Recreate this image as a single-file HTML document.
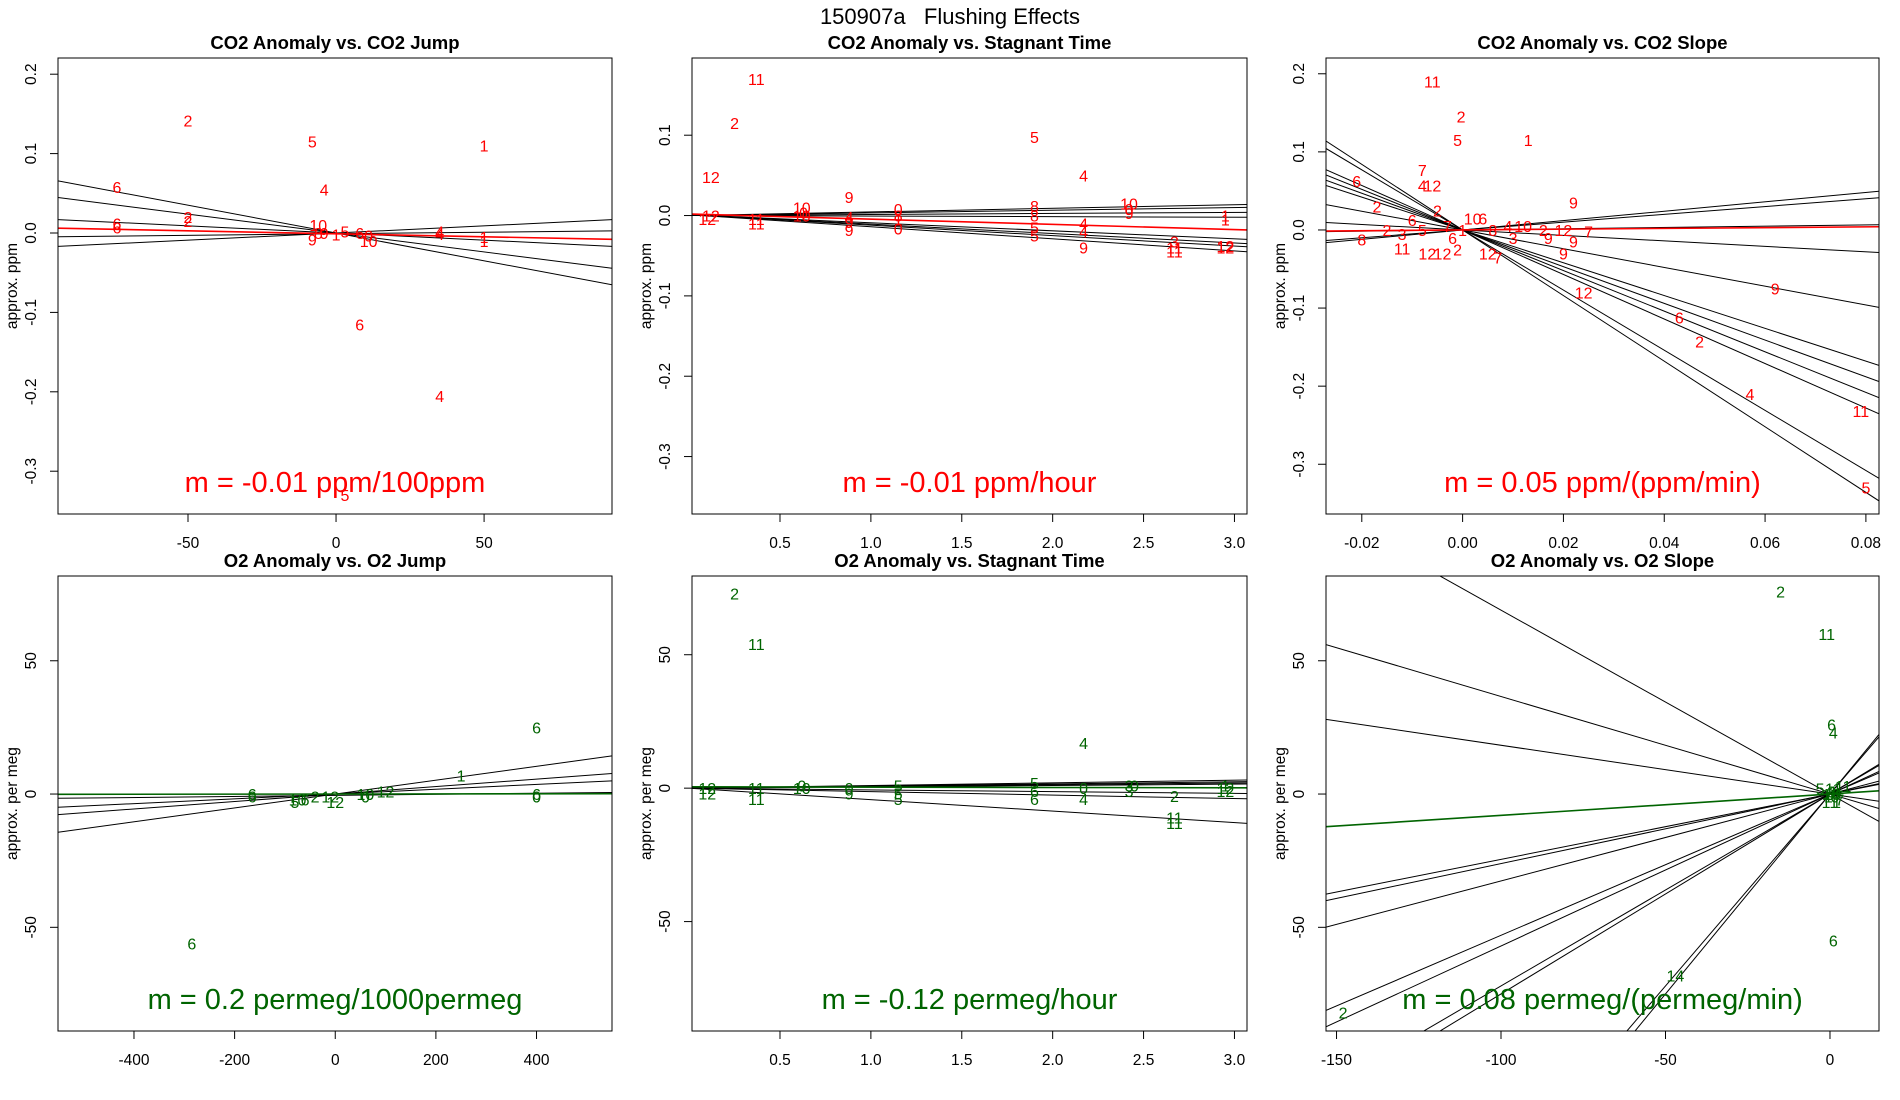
<!DOCTYPE html>
<html><head><meta charset="utf-8"><style>
html,body{margin:0;padding:0;background:#fff;overflow:hidden;width:1900px;height:1100px;}
svg{display:block;font-family:"Liberation Sans",sans-serif;}
</style></head><body>
<svg id="chart" width="1900" height="1100" viewBox="0 0 1900 1100" xmlns="http://www.w3.org/2000/svg">
<rect x="0" y="0" width="1900" height="1100" fill="#fff"/>
<text x="950" y="24" font-size="22" text-anchor="middle" xml:space="preserve" style="white-space:pre">150907a   Flushing Effects</text>
</svg>
<script>
// ---- data: CO2 vs CO2 Jump ----
const p1Labels = ['2','5','1','6','4','6','6','2','2','10','8','9','9','1','5','6','0','10','4','4','1','1','6','4','5'];
const p1X = [-50,-8,50,-74,-4,-74,-74,-50,-50,-6,-6,-4,-8,0,3,8,11,11,35,35,50,50,8,35,3];
const p1Y = [0.142,0.115,0.11,0.058,0.055,0.012,0.007,0.02,0.015,0.01,0,0,-0.008,-0.002,0.002,0,-0.003,-0.01,0.002,-0.001,-0.005,-0.01,-0.115,-0.205,-0.33];
const p1Slopes = [-0.0007,-0.000476,-0.00018,0.00018,0.00004];
const p1Intercepts = [0,0,0,0,-0.001];
const p1Fit = [-0.000075,-0.001];
// ---- data: CO2 vs Stagnant Time ----
const p2Labels = ['11','2','12','5','4','9','12','12','11','11','10','0','10','4','9','9','0','8','1','0','8','8','5','5','4','4','9','10','0','9','3','11','11','1','12','12','1'];
const p2X = [0.37,0.25,0.12,1.9,2.17,0.88,0.12,0.1,0.37,0.37,0.62,0.63,0.62,0.88,0.88,0.88,1.15,1.15,1.15,1.15,1.9,1.9,1.9,1.9,2.17,2.17,2.17,2.42,2.42,2.42,2.67,2.67,2.67,2.95,2.95,2.95,2.95];
const p2Y = [0.17,0.115,0.048,0.098,0.05,0.023,0,-0.004,-0.004,-0.01,0.01,0.004,0,-0.002,-0.008,-0.018,0.008,0,-0.005,-0.016,0.012,0,-0.015,-0.025,-0.01,-0.02,-0.04,0.015,0.008,0.003,-0.032,-0.04,-0.045,-0.005,-0.038,-0.04,0];
const p2Slopes = [0.0045,0.0033,0.0013,-0.0007,-0.01,-0.0117,-0.013,-0.015];
const p2Intercepts = [0,0,0,0,0.001,0.001,0.001,0.001];
const p2Fit = [-0.0065,0.002];
// ---- data: CO2 vs CO2 Slope ----
const p3Labels = ['11','2','5','1','7','4','12','6','9','2','6','2','10','6','2','8','11','12','12','2','12','7','3','10','2','12','7','9','9','9','12','6','2','9','4','11','5','3','5','7','1','8','4','6'];
const p3X = [-0.006,-0.0003,-0.001,0.013,-0.008,-0.008,-0.006,-0.021,0.022,-0.017,-0.01,-0.005,0.002,0.004,-0.015,-0.02,-0.012,-0.007,-0.004,-0.001,0.005,0.007,0.01,0.012,0.016,0.02,0.025,0.022,0.02,0.017,0.024,0.043,0.047,0.062,0.057,0.079,0.08,-0.012,-0.008,-0.003,0,0.006,0.009,-0.002];
const p3Y = [0.19,0.145,0.115,0.115,0.077,0.057,0.057,0.063,0.035,0.03,0.013,0.025,0.015,0.015,0,-0.012,-0.024,-0.03,-0.03,-0.025,-0.03,-0.035,-0.01,0.005,0,0,-0.002,-0.015,-0.03,-0.01,-0.08,-0.112,-0.143,-0.075,-0.21,-0.232,-0.33,-0.005,0,0.005,0,0,0.005,-0.01];
const p3Slopes = [-4.2,-3.85,-2.85,-2.6,-2.35,-2.1,-1.2,-0.35,0.08,0.5,0.6];
const p3Intercepts = [0,0,0,0,0,0,0,0,0,0,0];
const p3Fit = [0.05,0];
// ---- data: O2 vs O2 Jump ----
const p4Labels = ['6','6','1','12','6','6','10','6','2','12','12','10','0','6','0','5'];
const p4X = [400,-285,250,100,-165,-165,-75,-60,-40,-10,0,60,60,400,400,-80];
const p4Y = [25,-56,7,1,0,-1,-2,-2,-1,-1,-3,0,-1,0,-1,-3];
const p4Slopes = [0.026,0.014,0.009,0.002];
const p4Intercepts = [0,0,0,-0.5];
const p4Fit = [0.0002,0];
// ---- data: O2 vs Stagnant Time ----
const p5Labels = ['2','11','4','12','12','11','11','10','0','0','9','5','5','5','5','6','6','0','4','3','0','3','2','11','11','12','12','1'];
const p5X = [0.25,0.37,2.17,0.1,0.1,0.37,0.37,0.62,0.62,0.88,0.88,1.15,1.15,1.15,1.9,1.9,1.9,2.17,2.17,2.42,2.45,2.42,2.67,2.67,2.67,2.95,2.95,2.95];
const p5Y = [73,54,17,0,-2,0,-4,0,1,0,-2,1,-2,-4,2,-1,-4,0,-4,1,1,-1,-3,-11,-13,0,-1,1];
const p5Slopes = [1,0.8,0.65,0.5,-0.65,-1.3,-4.3];
const p5Intercepts = [0,0,0,0,0,0,0];
const p5Fit = [-0.12,0.5];
// ---- data: O2 vs O2 Slope ----
const p6Labels = ['2','11','6','4','5','11','11','7','11','1','6','14','2','1','3','0','1','3','0','1'];
const p6X = [-15,-1,0.5,1,-3,1,4,3,0,2,1,-47,-148,-1,0.5,1.5,-0.5,2,0,1];
const p6Y = [76,60,26,23,2,2,3,-2,-3,-3,-55,-68,-82,0,1,-1,-1,0,0,1];
const p6Slopes = [-0.69,-0.366,-0.183,0.245,0.261,0.326,0.53,0.57,0.72,0.75,1.44,1.5];
const p6Intercepts = [0,0,0,0,0,0,0,0,0,0,0,0];
const p6Fit = [0.08,0];
// ---- tick values ----
const p1XTicks = [-50,0,50], p1YTicks = [-0.3,-0.2,-0.1,0,0.1,0.2];
const p2XTicks = [0.5,1,1.5,2,2.5,3], p2YTicks = [-0.3,-0.2,-0.1,0,0.1];
const p3XTicks = [-0.02,0,0.02,0.04,0.06,0.08], p3YTicks = [-0.3,-0.2,-0.1,0,0.1,0.2];
const p4XTicks = [-400,-200,0,200,400], p4YTicks = [-50,0,50];
const p5XTicks = [0.5,1,1.5,2,2.5,3], p5YTicks = [-50,0,50];
const p6XTicks = [-150,-100,-50,0], p6YTicks = [-50,0,50];

const NS = 'http://www.w3.org/2000/svg';
const svg = document.getElementById('chart');
function mk(tag, attrs, parent){const e=document.createElementNS(NS,tag);for(const k in attrs)e.setAttribute(k,attrs[k]);(parent||svg).appendChild(e);return e;}

const panels = [
 {id:'co2-jump',title:'CO2 Anomaly vs. CO2 Jump',box:[58,58,612,514],xd:[-93.9,93.2],yd:[-0.3539,0.2204],xt:p1XTicks,yt:p1YTicks,xf:v=>String(v),yf:v=>v.toFixed(1),ylab:'approx. ppm',col:'#ff0000',labels:p1Labels,X:p1X,Y:p1Y,S:p1Slopes,I:p1Intercepts,fit:p1Fit,ann:'m = -0.01 ppm/100ppm'},
 {id:'co2-stagnant',title:'CO2 Anomaly vs. Stagnant Time',box:[692,58,1247,514],xd:[0.016,3.069],yd:[-0.3715,0.1961],xt:p2XTicks,yt:p2YTicks,xf:v=>v.toFixed(1),yf:v=>v.toFixed(1),ylab:'approx. ppm',col:'#ff0000',labels:p2Labels,X:p2X,Y:p2Y,S:p2Slopes,I:p2Intercepts,fit:p2Fit,ann:'m = -0.01 ppm/hour'},
 {id:'co2-slope',title:'CO2 Anomaly vs. CO2 Slope',box:[1326,58,1879,514],xd:[-0.0271,0.0826],yd:[-0.3637,0.2202],xt:p3XTicks,yt:p3YTicks,xf:v=>v.toFixed(2),yf:v=>v.toFixed(1),ylab:'approx. ppm',col:'#ff0000',labels:p3Labels,X:p3X,Y:p3Y,S:p3Slopes,I:p3Intercepts,fit:p3Fit,ann:'m = 0.05 ppm/(ppm/min)'},
 {id:'o2-jump',title:'O2 Anomaly vs. O2 Jump',box:[58,576,612,1031],xd:[-551,550],yd:[-88.9,81.8],xt:p4XTicks,yt:p4YTicks,xf:v=>String(v),yf:v=>String(v),ylab:'approx. per meg',col:'#006400',labels:p4Labels,X:p4X,Y:p4Y,S:p4Slopes,I:p4Intercepts,fit:p4Fit,ann:'m = 0.2 permeg/1000permeg'},
 {id:'o2-stagnant',title:'O2 Anomaly vs. Stagnant Time',box:[692,576,1247,1031],xd:[0.016,3.069],yd:[-91,79.5],xt:p5XTicks,yt:p5YTicks,xf:v=>v.toFixed(1),yf:v=>String(v),ylab:'approx. per meg',col:'#006400',labels:p5Labels,X:p5X,Y:p5Y,S:p5Slopes,I:p5Intercepts,fit:p5Fit,ann:'m = -0.12 permeg/hour'},
 {id:'o2-slope',title:'O2 Anomaly vs. O2 Slope',box:[1326,576,1879,1031],xd:[-153.2,14.9],yd:[-88.9,81.8],xt:p6XTicks,yt:p6YTicks,xf:v=>String(v),yf:v=>String(v),ylab:'approx. per meg',col:'#006400',labels:p6Labels,X:p6X,Y:p6Y,S:p6Slopes,I:p6Intercepts,fit:p6Fit,ann:'m = 0.08 permeg/(permeg/min)'}
];

const defs = mk('defs',{});
panels.forEach((p,pi)=>{
  const [L,T,R,B]=p.box;
  const sx=v=>L+(v-p.xd[0])/(p.xd[1]-p.xd[0])*(R-L);
  const sy=v=>B-(v-p.yd[0])/(p.yd[1]-p.yd[0])*(B-T);
  const cp=mk('clipPath',{id:'clip'+pi},defs);
  mk('rect',{x:L,y:T,width:R-L,height:B-T},cp);
  const g=mk('g',{});
  
  
  const t=mk('text',{x:(L+R)/2,y:T-9,'font-size':18.5,'font-weight':'bold','text-anchor':'middle'},g);
  t.textContent=p.title;
  
  
  const lg=mk('g',{'clip-path':'url(#clip'+pi+')'},g);
  
  
  p.S.forEach((s,i)=>{
    const x0=p.xd[0],x1=p.xd[1];
    const ln=mk('line',{x1:sx(x0),y1:sy(s*x0+p.I[i]),x2:sx(x1),y2:sy(s*x1+p.I[i]),stroke:'#000','stroke-width':1},lg);
    
    
  });
  p.labels.forEach((lab,i)=>{
    const tx=mk('text',{x:sx(p.X[i]),y:sy(p.Y[i])+6,'font-size':16,fill:p.col,'text-anchor':'middle'},lg);
    tx.textContent=lab;
    
    
  });
  const fx0=p.xd[0],fx1=p.xd[1];
  const fl=mk('line',{x1:sx(fx0),y1:sy(p.fit[0]*fx0+p.fit[1]),x2:sx(fx1),y2:sy(p.fit[0]*fx1+p.fit[1]),stroke:p.col,'stroke-width':1.6},lg);
  
  
  const bx=mk('rect',{x:L,y:T,width:R-L,height:B-T,fill:'none',stroke:'#000','stroke-width':1},g);
  
  
  const xa=mk('g',{},g);
  
  
  mk('line',{x1:sx(p.xt[0]),y1:B,x2:sx(p.xt[p.xt.length-1]),y2:B,stroke:'#000'},xa);
  p.xt.forEach(v=>{
    mk('line',{x1:sx(v),y1:B,x2:sx(v),y2:B+8,stroke:'#000'},xa);
    const tl=mk('text',{x:sx(v),y:B+34,'font-size':15.5,'text-anchor':'middle'},xa);
    tl.textContent=p.xf(v);
    
    
  });
  const ya=mk('g',{},g);
  
  
  mk('line',{x1:L,y1:sy(p.yt[0]),x2:L,y2:sy(p.yt[p.yt.length-1]),stroke:'#000'},ya);
  p.yt.forEach(v=>{
    mk('line',{x1:L-8,y1:sy(v),x2:L,y2:sy(v),stroke:'#000'},ya);
    const tl=mk('text',{x:0,y:0,'font-size':15.5,'text-anchor':'middle',transform:`translate(${L-22},${sy(v)}) rotate(-90)`},ya);
    tl.textContent=p.yf(v);
    
    
  });
  const yl=mk('text',{x:0,y:0,'font-size':15.5,'text-anchor':'middle',transform:`translate(${L-41},${(T+B)/2}) rotate(-90)`},g);
  yl.textContent=p.ylab;
  
  
  const an=mk('text',{x:(L+R)/2,y:B-22,'font-size':29,fill:p.col,'text-anchor':'middle'},g);
  an.textContent=p.ann;
  
  
});
</script>
</body></html>
